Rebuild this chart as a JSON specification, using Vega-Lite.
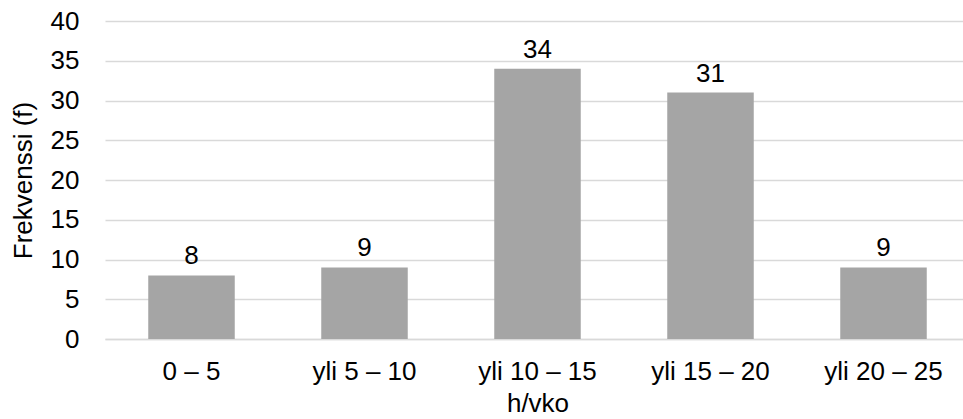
{
  "$schema": "https://vega.github.io/schema/vega-lite/v6.json",
  "width": 858,
  "height": 318,
  "autosize": "none",
  "padding": {"left": 105, "top": 21, "right": 0, "bottom": 80},
  "background": "white",
  "data": {
    "values": [
      {"luokka": "0 – 5", "f": 8},
      {"luokka": "yli 5 – 10", "f": 9},
      {"luokka": "yli 10 – 15", "f": 34},
      {"luokka": "yli 15 – 20", "f": 31},
      {"luokka": "yli 20 – 25", "f": 9}
    ]
  },
  "config": {
    "font": "Liberation Sans",
    "view": {"stroke": null},
    "axis": {
      "labelFont": "Liberation Sans",
      "titleFont": "Liberation Sans",
      "labelColor": "#000000",
      "titleColor": "#000000",
      "titleFontWeight": "normal",
      "labelFontSize": 26,
      "titleFontSize": 26
    }
  },
  "encoding": {
    "x": {
      "field": "luokka",
      "type": "nominal",
      "sort": null,
      "scale": {"range": [0, 865], "paddingInner": 0.5, "paddingOuter": 0.25},
      "axis": {
        "title": "h/vko",
        "labelAngle": 0,
        "ticks": false,
        "labelPadding": 19,
        "titlePadding": 6,
        "domainColor": "#d9d9d9",
        "domainWidth": 1.5
      }
    },
    "y": {
      "field": "f",
      "type": "quantitative",
      "scale": {"domain": [0, 40]},
      "axis": {
        "title": "Frekvenssi (f)",
        "values": [0, 5, 10, 15, 20, 25, 30, 35, 40],
        "ticks": false,
        "domain": false,
        "labelPadding": 26,
        "titlePadding": 14,
        "gridColor": "#d9d9d9",
        "gridWidth": 1.5
      }
    }
  },
  "layer": [
    {"mark": {"type": "bar", "color": "#a5a5a5"}},
    {
      "mark": {"type": "text", "baseline": "alphabetic", "dy": -11, "fontSize": 26, "color": "#000000"},
      "encoding": {"text": {"field": "f", "type": "quantitative"}}
    }
  ]
}
